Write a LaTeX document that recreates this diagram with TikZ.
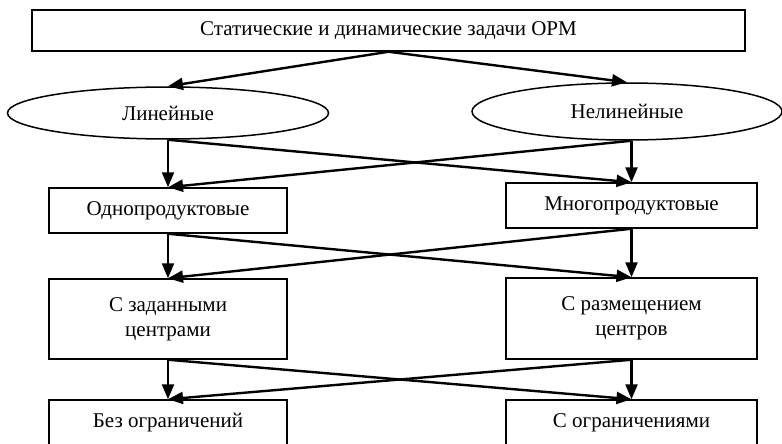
\documentclass[tikz,border=0pt]{standalone}
\usepackage{fontspec}
\setmainfont{Liberation Serif}
\usetikzlibrary{shapes.geometric,arrows.meta}
\tikzset{
  box/.style={draw,line width=1.5pt,inner sep=0pt,align=center,minimum height=45pt},
  oval/.style={draw,ellipse,line width=1.5pt,inner sep=0pt},
  arr/.style={line width=2.4pt,-{Triangle[length=15pt,width=12pt]}}
}
\begin{document}
\begin{tikzpicture}[x=1pt,y=-1pt,font=\fontsize{21}{25}\selectfont]
        \useasboundingbox (0,0) rectangle (782,444);
        \clip (0,0) rectangle (782,444);
        \node[box,minimum width=713pt,minimum height=41pt](top)at(388.5,30.5){Статические и динамические задачи ОРМ};
        \node[oval,minimum width=321pt,minimum height=52pt](lin)at(168,113){Линейные};
        \node[oval,minimum width=310pt,minimum height=57pt](nelin)at(627,111.5){Нелинейные};
        \node[box,minimum width=238pt](odno)at(168,210.5){Однопродуктовые};
        \node[box,minimum width=251pt](mnogo)at(631.5,205.5){Многопродуктовые};
        \node[box,minimum width=238pt,minimum height=80pt](zad)at(168,319){С заданными\\центрами};
        \node[box,minimum width=251pt,minimum height=81pt](razm)at(631.5,318.5){С размещением\\центров};
        \node[box,minimum width=238pt](bez)at(168,422.5){Без ограничений};
        \node[box,minimum width=251pt](sogr)at(631.5,422.5){С ограничениями};
        \draw[arr](top.south)--(lin.north);
        \draw[arr](top.south)--(nelin.north);
        \foreach \l/\r/\L/\R in {lin/nelin/odno/mnogo,odno/mnogo/zad/razm,zad/razm/bez/sogr}{
            \draw[arr](\l.south)--(\L.north);
            \draw[arr](\l.south)--(\R.north);
            \draw[arr](\R.north|-\r.south)--(\R.north);
            \draw[arr](\R.north|-\r.south)--(\L.north);
        }
    \end{tikzpicture}
\end{document}
